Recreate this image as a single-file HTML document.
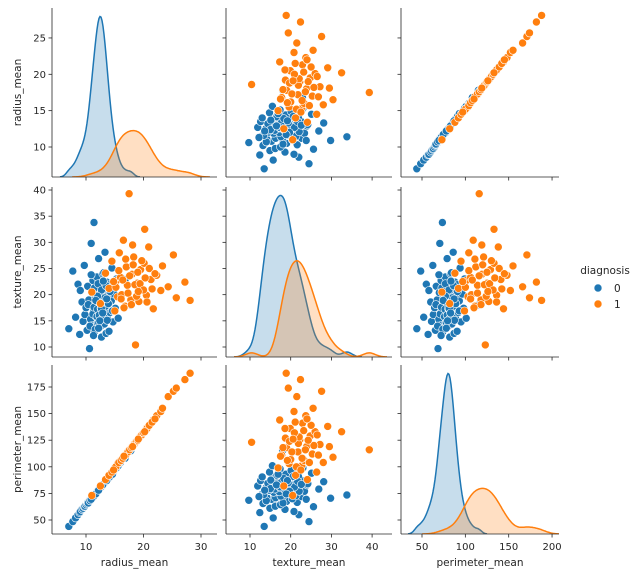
<!DOCTYPE html>
<html><head><meta charset="utf-8">
<style>
html,body{margin:0;padding:0;background:#fff;}
svg{display:block;font-family:"DejaVu Sans","Liberation Sans",sans-serif;}
</style></head>
<body>
<svg id="chart" width="640" height="576" viewBox="0 0 640 576" xmlns="http://www.w3.org/2000/svg"></svg>
<script>
// ---- data ----
const benignRadiusA = [7.0,7.7,8.2,8.6,8.9,9.0,9.3,9.5,9.7,9.8,
 10.0,10.2,10.3,10.5,10.6,10.8,10.9,11.0,11.1,11.2,
 11.3,11.4,11.5,11.6,11.7,11.8,11.9,12.0,12.0,12.1,
 12.2,12.3,12.4,12.5,12.5,12.6,12.7,12.8,12.9,13.0,
 13.0,13.1,13.2,13.3,13.4,13.5,13.6,13.7,13.8,13.9,
 14.0,14.1,14.2,14.4,14.5,14.7,14.9,15.1,15.3,15.6,
 16.0,16.8,17.8];
const benignTextureA = [13.5,24.5,15.7,22.0,12.4,20.8,18.6,14.9,25.6,16.2,
 17.5,13.2,21.6,19.0,9.7,15.3,29.8,17.9,14.1,22.7,
 16.8,33.8,12.9,19.6,15.9,18.2,23.4,14.6,20.3,17.1,
 26.9,13.8,18.9,16.4,21.1,15.2,11.9,19.3,24.0,17.7,
 14.3,20.7,16.0,28.1,18.4,12.6,22.4,15.6,19.8,17.0,
 13.0,21.9,16.6,18.8,25.1,14.8,20.1,17.4,23.0,15.5,
 19.5,22.9,18.0];
const benignPerimeterA = [44,48.5,52,55,57,58,60,61,62.5,63,
 64.5,65.5,66.5,67.5,68.5,69.5,70.5,71,71.5,72,
 73,73.5,74,75,75.5,76,77,77.5,78,78,
 79,79.5,80,80.5,81,81.5,82,82.5,83,84,
 84,84.5,85,86,86.5,87,88,88.5,89,90,
 90.5,91,92,93,94,95,96.5,98,99,101,
 104,108,115];
const benignRadiusB = [10.4,10.7,11.0,11.2,11.4,11.5,11.6,11.8,11.9,12.0,
 12.1,12.2,12.3,12.3,12.4,12.5,12.6,12.7,12.8,12.9,
 13.0,13.1,13.2,13.3,13.4,13.5,13.7,13.9,14.2,14.6,
 11.3,12.0,12.4,12.7,13.0,11.7,12.2,12.9,13.6,10.9];
const benignTextureB = [18.1,14.0,20.4,16.3,17.6,21.3,13.4,19.1,15.8,17.2,
 22.1,14.7,18.5,16.1,19.9,13.9,17.4,20.9,15.4,18.7,
 16.7,24.2,14.4,19.4,17.8,21.7,15.1,18.3,20.6,16.9,
 12.2,19.7,15.0,17.3,22.6,18.9,13.6,16.5,19.2,23.8];
const benignPerimeterB = [66,68,70,71,72.5,73,74,75.5,76,76.5,
 77,78,78.5,79,79,80,80.5,81,82,82.5,
 83,84,84.5,85,86,86.5,87.5,89,91,93,
 72,77,79.5,81.5,83.5,74.5,78,83,87,69.5];
const malignantRadiusA = [11.0,12.5,13.4,14.0,14.5,15.0,15.3,15.5,15.8,16.0,
 16.2,16.5,16.8,17.0,17.2,17.5,17.8,18.0,18.3,18.6,
 18.9,19.2,19.5,19.8,20.1,20.5,20.9,21.3,21.7,22.3,
 23.0,23.3,24.3,25.2,25.7,27.2,28.1];
const malignantTextureA = [20.5,18.3,24.1,21.2,26.4,16.9,22.7,19.6,28.0,23.3,
 20.0,30.4,17.8,25.3,21.8,39.3,19.0,23.9,27.2,10.4,
 22.2,18.7,24.8,21.0,26.0,19.9,29.1,22.9,17.3,23.7,
 20.8,25.5,21.5,27.6,19.4,22.4,18.9];
const malignantPerimeterA = [73,82,88,92,95,99,101,103,104,106,
 107,109,111,112,114,116,118,119,121,123,
 125,127,129,131,133,136,138,141,144,148,
 152,155,166,171,174,182,188];
const malignantRadiusB = [15.2,15.7,16.1,16.4,16.9,17.3,17.6,17.9,18.2,18.5,
 18.8,19.0,19.4,19.7,20.0,20.3,20.6,21.0,21.5,22.0,
 14.8,16.6,18.1,19.1,20.2];
const malignantTextureB = [21.4,24.6,19.2,22.8,26.8,20.3,23.6,18.1,25.7,21.9,
 19.7,24.3,22.1,26.5,20.9,23.2,18.6,25.0,21.1,24.0,
 22.5,17.5,29.5,20.6,32.5];
const malignantPerimeterB = [100,104,106,108,111,114,116,118,120,122,
 124,125,128,130,132,134,136,139,142,145,
 97,110,119,126,133];
const benignRadius = benignRadiusA.concat(benignRadiusB);
const benignTexture = benignTextureA.concat(benignTextureB);
const benignPerimeter = benignPerimeterA.concat(benignPerimeterB);
const malignantRadius = malignantRadiusA.concat(malignantRadiusB);
const malignantTexture = malignantTextureA.concat(malignantTextureB);
const malignantPerimeter = malignantPerimeterA.concat(malignantPerimeterB);
const classLabels = ["0","1"];
const varNames = ["radius_mean","texture_mean","perimeter_mean"];
const radiusTicks = [10,20,30];
const textureTicks = [10,20,30,40];
const perimeterTicks = [50,100,150,200];
const radiusYTicks = [10,15,20,25];
const textureYTicks = [10,15,20,25,30,35,40];
const perimeterYTicks = [50,75,100,125,150,175];

// ---- layout ----
const NS="http://www.w3.org/2000/svg";
const svg=document.getElementById('chart');
const colors=["#1f77b4","#ff7f0e"];
const cols=[{x0:52,x1:217},{x0:226,x1:392},{x0:401,x1:559}];
const rows=[{y0:8,y1:177},{y0:187,y1:357},{y0:365,y1:534}];
const xs=[
 v=>86+(v-10)*5.75,
 v=>250+(v-10)*4.07,
 v=>422+(v-50)*0.867
];
const ys=[
 v=>147-(v-10)*7.27,
 v=>347-(v-10)*5.233,
 v=>520-(v-50)*1.064
];
const data=[[benignRadius,benignTexture,benignPerimeter],[malignantRadius,malignantTexture,malignantPerimeter]];
const xTicks=[radiusTicks,textureTicks,perimeterTicks];
const yTicks=[radiusYTicks,textureYTicks,perimeterYTicks];
const realN=[357,212];

function mk(tag,attrs,parent){const e=document.createElementNS(NS,tag);for(const k in attrs)e.setAttribute(k,attrs[k]);(parent||svg).appendChild(e);return e;}

for(let r=0;r<3;r++){for(let c=0;c<3;c++){
 const g=mk('g',{});
 
 
 const clipId='clip'+r+c;
 const cp=mk('clipPath',{id:clipId},g);
 mk('rect',{x:cols[c].x0,y:rows[r].y0,width:cols[c].x1-cols[c].x0,height:rows[r].y1-rows[r].y0},cp);
 const inner=mk('g',{'clip-path':'url(#'+clipId+')'},g);
 if(r===c){
  const v=r;const X0=cols[c].x0,X1=cols[c].x1;
  const inv=px=>{const a=xs[c](0),b=xs[c](1);return (px-a)/(b-a);};
  const curves=[];let maxD=0;
  for(let k=0;k<2;k++){
   const arr=data[k][v];const n=arr.length;
   const mean=arr.reduce((s,x)=>s+x,0)/n;
   const sd=Math.sqrt(arr.reduce((s,x)=>s+(x-mean)*(x-mean),0)/(n-1));
   const bw=sd*Math.pow(realN[k],-0.2);
   const mn=Math.min(...arr)-3*bw,mx=Math.max(...arr)+3*bw;
   const pts=[];
   for(let px=X0;px<=X1;px+=1){const xv=inv(px);if(xv<mn||xv>mx)continue;
    let d=0;for(const a of arr){const z=(xv-a)/bw;d+=Math.exp(-0.5*z*z);}
    d=d/(bw)*(realN[k]/n);pts.push([px,d]);if(d>maxD)maxD=d;}
   curves.push(pts);
  }
  const H=rows[r].y1-rows[r].y0;const base=rows[r].y1;
  for(let k=0;k<2;k++){
   const pts=curves[k];
   const line=pts.map(p=>p[0].toFixed(1)+','+(base-p[1]/maxD*H*0.95).toFixed(1));
   const fill=mk('polygon',{points:pts[0][0]+','+base+' '+line.join(' ')+' '+pts[pts.length-1][0]+','+base,fill:colors[k],'fill-opacity':0.25,stroke:'none'},inner);
   
   
   const pl=mk('polyline',{points:line.join(' '),fill:'none',stroke:colors[k],'stroke-width':1.5},inner);
   
   
  }
 } else {
  for(let k=0;k<2;k++){
   const xa=data[k][c],ya=data[k][r];
   for(let i=0;i<xa.length;i++){
    const p=mk('circle',{cx:xs[c](xa[i]).toFixed(1),cy:ys[r](ya[i]).toFixed(1),r:4,fill:colors[k],stroke:'#fff','stroke-width':0.6},inner);
    
    
   }
  }
 }
 mk('line',{x1:cols[c].x0,y1:rows[r].y0,x2:cols[c].x0,y2:rows[r].y1,stroke:'#262626','stroke-width':0.8},g);
 mk('line',{x1:cols[c].x0,y1:rows[r].y1,x2:cols[c].x1,y2:rows[r].y1,stroke:'#262626','stroke-width':0.8},g);
 for(const t of xTicks[c]){const px=xs[c](t);mk('line',{x1:px,y1:rows[r].y1,x2:px,y2:rows[r].y1+3.5,stroke:'#262626','stroke-width':0.8},g);
  if(r===2){const tl=mk('text',{x:px,y:rows[r].y1+16,'font-size':10,'text-anchor':'middle',fill:'#262626'},g);tl.textContent=t;
   
   }}
 for(const t of yTicks[r]){const py=ys[r](t);if(py<rows[r].y0-1)continue;
  mk('line',{x1:cols[c].x0-3.5,y1:py,x2:cols[c].x0,y2:py,stroke:'#262626','stroke-width':0.8},g);
  if(c===0){const tl=mk('text',{x:cols[c].x0-6,y:py+3.5,'font-size':10,'text-anchor':'end',fill:'#262626'},g);tl.textContent=t;
   
   }}
}}
for(let i=0;i<3;i++){
 const xl=mk('text',{x:(cols[i].x0+cols[i].x1)/2,y:566,'font-size':10.5,'text-anchor':'middle',fill:'#262626'});
 xl.textContent=varNames[i];
 
 
 const cy=(rows[i].y0+rows[i].y1)/2;
 const yl=mk('text',{x:0,y:0,'font-size':10.5,'text-anchor':'middle',fill:'#262626',transform:'translate(21,'+cy+') rotate(-90)'});
 yl.textContent=varNames[i];
 
 
}
const lg=mk('g',{});


const lt=mk('text',{x:605,y:274,'font-size':10.5,'text-anchor':'middle',fill:'#262626'},lg);
lt.textContent='diagnosis';


for(let k=0;k<2;k++){
 const e=mk('g',{},lg);
 
 
 mk('circle',{cx:598,cy:288+k*16,r:4,fill:colors[k],stroke:'#fff','stroke-width':0.6},e);
 const t=mk('text',{x:614,y:292+k*16,'font-size':10.5,fill:'#262626'},e);t.textContent=classLabels[k];
}
</script>
</body></html>
